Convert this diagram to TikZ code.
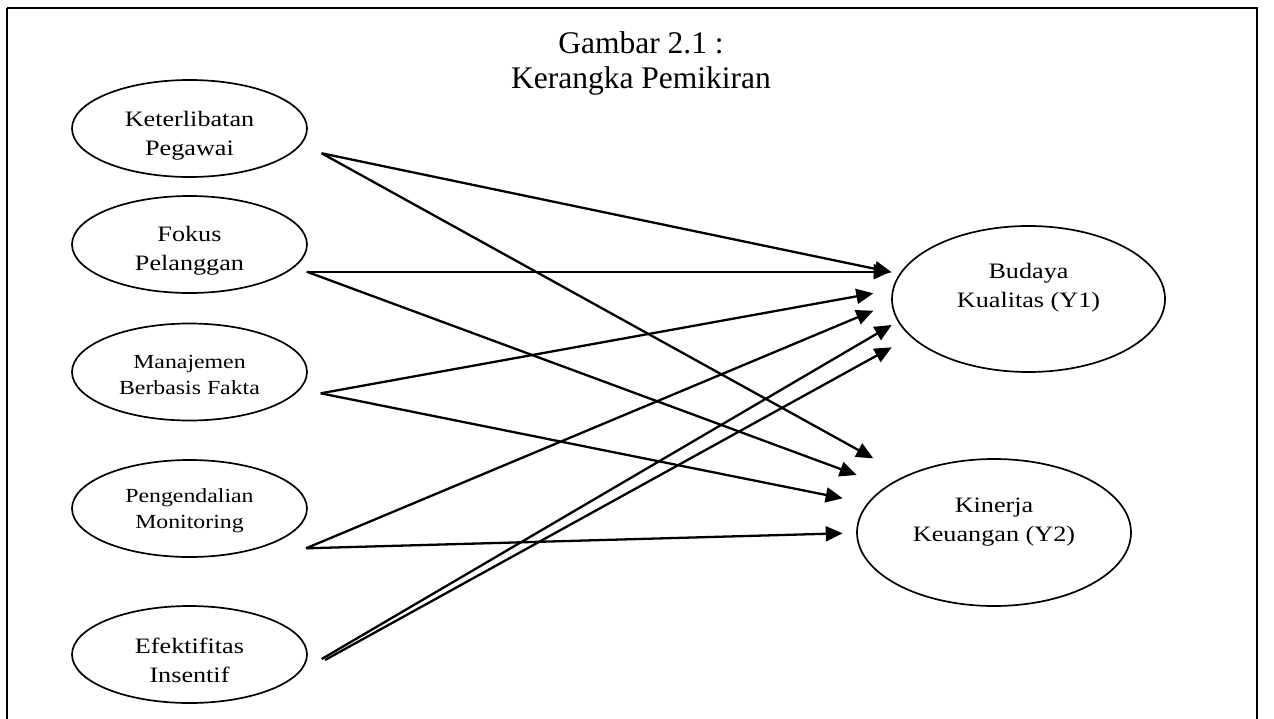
\documentclass[tikz,border=0pt]{standalone}
\usepackage{fontspec}
\setmainfont{Liberation Serif}
\newfontfamily\bodyfont[FakeStretch=1.19]{Liberation Serif}
\usetikzlibrary{shapes.geometric,arrows.meta}
\begin{document}
\begin{tikzpicture}[x=1pt,y=-1pt,
  frame/.style={line width=2pt},
  var/.style={ellipse,draw,line width=1.7pt,inner sep=0pt},
  small/.style={var,minimum width=235pt,minimum height=97pt},
  big/.style={var,minimum width=273pt,minimum height=146pt},
  lbl/.style={align=center,font=\bodyfont\fontsize{22}{29}\selectfont},
  lbls/.style={align=center,font=\bodyfont\fontsize{20}{26}\selectfont},
  arr/.style={line width=2.3pt,-{Triangle[length=17pt,width=15pt]}},
  title/.style={align=center,font=\fontsize{31.5}{35}\selectfont}]
\useasboundingbox (0,0) rectangle (1274,718);
\draw[frame] (7,8) -- (1257,8) -- (1257,730);
\draw[frame] (7,8) -- (7,730);
\node[title] (ttl) at (641,63) {Gambar 2.1 :\\Kerangka Pemikiran};

\node[small,label={[lbl,yshift=-7pt]center:{Keterlibatan\\Pegawai}}] (k) at (189.5,128.5) {};
\node[small,label={[lbl,yshift=-6pt]center:{Fokus\\Pelanggan}}] (f) at (189.5,244.5) {};
\node[small,label={[lbls,yshift=-3pt]center:{Manajemen\\Berbasis Fakta}}] (m) at (189.5,372) {};
\node[small,label={[lbls,yshift=-2pt]center:{Pengendalian\\Monitoring}}] (p) at (189.5,508.5) {};
\node[small,label={[lbl,yshift=-6pt]center:{Efektifitas\\Insentif}}] (e) at (189.5,654.5) {};
\node[big,label={[lbl,yshift=11pt]center:{Budaya\\Kualitas (Y1)}}] (b) at (1028.5,299) {};
\node[big,minimum width=274pt,minimum height=147pt,label={[lbl,yshift=10pt]center:{Kinerja\\Keuangan (Y2)}}] (kk) at (994,532.5) {};

% connector ends
\coordinate (kout) at (321.7,153.3);
\coordinate (fout) at (306.7,271.7);
\coordinate (mout) at (320.7,393.3);
\coordinate (pout) at (306,548.3);
\coordinate (eout1) at (321.7,659);
\coordinate (eout2) at (325,660);
\coordinate (bin1) at (891.7,272.3);
\coordinate (bin2) at (890.5,272.3);
\coordinate (bin3) at (873.3,293.3);
\coordinate (bin4) at (873.3,310.7);
\coordinate (bin5) at (891.7,325);
\coordinate (bin6) at (891.7,347.3);
\coordinate (kin1) at (873.3,458.3);
\coordinate (kin2) at (856.7,475);
\coordinate (kin3) at (842.7,498.3);
\coordinate (kin4) at (842.7,533.3);

\draw[arr] (kout) -- (bin1);
\draw[arr] (kout) -- (kin1);
\draw[arr] (fout) -- (bin2 |- fout);
\draw[arr] (fout) -- (kin2);
\draw[arr] (mout) -- (bin3);
\draw[arr] (mout) -- (kin3);
\draw[arr] (pout) -- (bin4);
\draw[arr] (pout) -- (kin4);
\draw[arr] (eout1) -- (bin5);
\draw[arr] (eout2) -- (bin6);
\end{tikzpicture}
\end{document}
